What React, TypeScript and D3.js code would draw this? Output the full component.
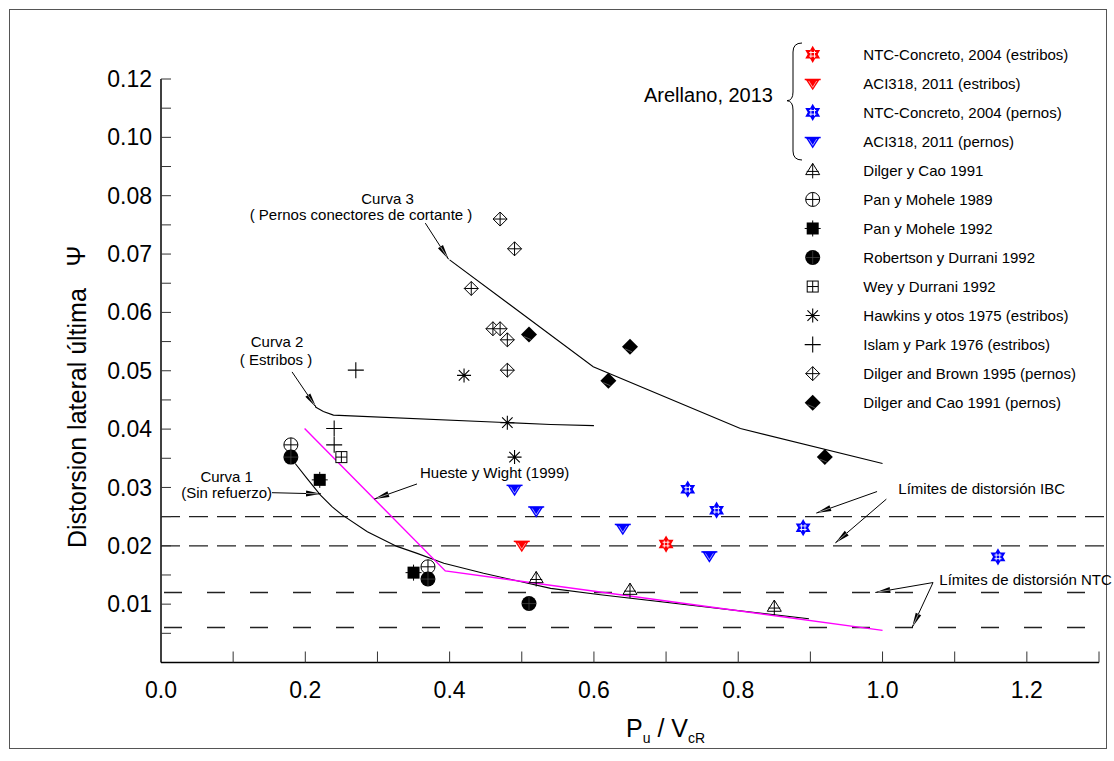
import React from "react";
import * as d3 from "d3";

type Pt = [number, number];

// --- data (x = Pu/VcR, y = axis position) ---
const ntcEstribos: Pt[] = [[0.70, 0.0203]];
const aciEstribos: Pt[] = [[0.50, 0.0201]];
const ntcPernos: Pt[] = [[0.73, 0.0297], [0.77, 0.0261], [0.89, 0.0231], [1.16, 0.0181]];
const aciPernos: Pt[] = [[0.49, 0.0297], [0.52, 0.026], [0.64, 0.023], [0.76, 0.0183]];
const dilgerCao1991: Pt[] = [[0.52, 0.0144], [0.65, 0.0124], [0.85, 0.0095]];
const panMohele1989: Pt[] = [[0.18, 0.0373], [0.37, 0.0164]];
const panMohele1992: Pt[] = [[0.22, 0.0313], [0.35, 0.0154]];
const robertsonDurrani: Pt[] = [[0.18, 0.0352], [0.37, 0.0143], [0.51, 0.0101]];
const weyDurrani: Pt[] = [[0.25, 0.0352]];
const hawkins: Pt[] = [[0.42, 0.0492], [0.48, 0.0411], [0.49, 0.0352]];
const islamPark: Pt[] = [[0.27, 0.0501], [0.24, 0.0401], [0.24, 0.0373]];
const dilgerBrown: Pt[] = [
  [0.47, 0.076], [0.49, 0.0709], [0.43, 0.0641], [0.46, 0.0572],
  [0.47, 0.0572], [0.48, 0.0553], [0.48, 0.0501],
];
const dilgerCaoPernos: Pt[] = [[0.51, 0.0562], [0.65, 0.0541], [0.62, 0.0483], [0.92, 0.0352]];

// curves
const curva1: Pt[] = [
  [0.186, 0.0341], [0.202, 0.0316], [0.221, 0.0287], [0.237, 0.0267], [0.251, 0.0253],
  [0.286, 0.0224], [0.327, 0.0199], [0.355, 0.0187], [0.392, 0.017], [0.447, 0.0153],
  [0.54, 0.0127], [0.609, 0.0116], [0.898, 0.0075],
];
const curva2: Pt[] = [[0.214, 0.0438], [0.225, 0.043], [0.239, 0.0424], [0.54, 0.0408], [0.6, 0.0406]];
const curva3: Pt[] = [[0.4, 0.069], [0.599, 0.0507], [0.803, 0.0401], [1.0, 0.0341]];
const huesteWight: Pt[] = [[0.199, 0.0401], [0.394, 0.0157], [1.0, 0.0055]];

const limitesIBC = [0.025, 0.02];
const limitesNTC = [0.012, 0.006];

const xLabelValues = [0, 0.2, 0.4, 0.6, 0.8, 1.0, 1.2];
const xLabels = ["0.0", "0.2", "0.4", "0.6", "0.8", "1.0", "1.2"];
const xMinor = [0.1, 0.2, 0.3, 0.4, 0.5, 0.6, 0.7, 0.8, 0.9, 1.0, 1.1, 1.2, 1.3];
const yLabelValues = [0.01, 0.02, 0.03, 0.04, 0.05, 0.06, 0.07, 0.08, 0.09, 0.1];
const yLabels = ["0.01", "0.02", "0.03", "0.04", "0.05", "0.06", "0.07", "0.08", "0.10", "0.12"];

const FONT = "'Liberation Sans', Arial, sans-serif";

type Kind =
  | "star" | "triDown" | "triUp" | "circlePlus" | "squareFill" | "circleFill"
  | "squarePlus" | "asterisk" | "plus" | "diamondPlus" | "diamondFill";

const series: { label: string; kind: Kind; color: string; data: Pt[] }[] = [
  { label: "NTC-Concreto, 2004 (estribos)", kind: "star", color: "#ff0000", data: ntcEstribos },
  { label: "ACI318, 2011 (estribos)", kind: "triDown", color: "#ff0000", data: aciEstribos },
  { label: "NTC-Concreto, 2004 (pernos)", kind: "star", color: "#0000ff", data: ntcPernos },
  { label: "ACI318, 2011 (pernos)", kind: "triDown", color: "#0000ff", data: aciPernos },
  { label: "Dilger y Cao 1991", kind: "triUp", color: "#000", data: dilgerCao1991 },
  { label: "Pan y Mohele 1989", kind: "circlePlus", color: "#000", data: panMohele1989 },
  { label: "Pan y Mohele 1992", kind: "squareFill", color: "#000", data: panMohele1992 },
  { label: "Robertson y Durrani 1992", kind: "circleFill", color: "#000", data: robertsonDurrani },
  { label: "Wey y Durrani 1992", kind: "squarePlus", color: "#000", data: weyDurrani },
  { label: "Hawkins y otos 1975 (estribos)", kind: "asterisk", color: "#000", data: hawkins },
  { label: "Islam y Park 1976 (estribos)", kind: "plus", color: "#000", data: islamPark },
  { label: "Dilger and Brown 1995 (pernos)", kind: "diamondPlus", color: "#000", data: dilgerBrown },
  { label: "Dilger and Cao 1991 (pernos)", kind: "diamondFill", color: "#000", data: dilgerCaoPernos },
];

function Marker({ kind, x, y, color }: { kind: Kind; x: number; y: number; color: string }) {
  const r = 7;
  const t = `translate(${x},${y})`;
  switch (kind) {
    case "star": {
      const h = r * 0.866;
      return (
        <g transform={t}>
          <path d={`M0,${-r}L${h},${r / 2}L${-h},${r / 2}Z`} fill={color} stroke={color} strokeWidth={1.6} />
          <path d={`M0,${r}L${h},${-r / 2}L${-h},${-r / 2}Z`} fill={color} stroke={color} strokeWidth={1.6} />
          <path d="M-1.8,-3.5V3.5M1.8,-3.5V3.5M-3.5,-1.8H3.5M-3.5,1.8H3.5" stroke="#fff" strokeWidth={0.9} />
        </g>
      );
    }
    case "triDown":
      return (
        <g transform={t}>
          <path d={`M${-r},${-r * 0.55}L${r},${-r * 0.55}L0,${r}Z`} fill={color} />
          <path d={`M${-r - 1},${-r * 0.55}H${r + 1}`} stroke={color} strokeWidth={1.5} />
          <path d={`M${-r + 3},${-r * 0.55 + 1.5}L0,${r - 3}L${r - 3},${-r * 0.55 + 1.5}`} fill="none" stroke="#fff" strokeWidth={0.6} />
        </g>
      );
    case "triUp":
      return (
        <g transform={t} fill="none" stroke={color} strokeWidth={1}>
          <path d={`M0,${-r}L${r},${r * 0.6}L${-r},${r * 0.6}Z`} />
          <path d={`M0,${-r}V${r + 1}M${-r + 1},${1}H${r - 1}`} />
        </g>
      );
    case "circlePlus":
      return (
        <g transform={t} fill="none" stroke={color} strokeWidth={1}>
          <circle r={r} fill="#fff" />
          <path d={`M0,${-r}V${r}M${-r},0H${r}`} />
        </g>
      );
    case "squareFill":
      return (
        <g transform={t}>
          <rect x={-6} y={-6} width={12} height={12} fill={color} />
          <path d="M0,-8V8M-8,0H8" stroke={color} strokeWidth={1} />
        </g>
      );
    case "circleFill":
      return (
        <g transform={t}>
          <circle r={r + 0.5} fill={color} />
          <path d={`M0,${-r}V${r}M${-r},0H${r}`} stroke="#555" strokeWidth={0.6} />
        </g>
      );
    case "squarePlus":
      return (
        <g transform={t} fill="none" stroke={color} strokeWidth={1}>
          <rect x={-5.5} y={-5.5} width={11} height={11} fill="#fff" />
          <path d="M0,-5.5V5.5M-5.5,0H5.5" />
        </g>
      );
    case "asterisk": {
      const d = r * 0.75;
      return (
        <g transform={t} stroke={color} strokeWidth={1.1}>
          <path d={`M0,${-r}V${r}M${-r},0H${r}M${-d},${-d}L${d},${d}M${-d},${d}L${d},${-d}`} />
        </g>
      );
    }
    case "plus":
      return (
        <g transform={t} stroke={color} strokeWidth={1.1}>
          <path d={`M0,${-r - 1}V${r + 1}M${-r - 1},0H${r + 1}`} />
        </g>
      );
    case "diamondPlus":
      return (
        <g transform={t} fill="none" stroke={color} strokeWidth={1}>
          <path d={`M0,${-r}L${r},0L0,${r}L${-r},0Z`} fill="#fff" />
          <path d={`M0,${-r}V${r}M${-r},0H${r}`} />
        </g>
      );
    case "diamondFill":
      return (
        <g transform={t}>
          <path d={`M0,${-r - 1}L${r + 1},0L0,${r + 1}L${-r - 1},0Z`} fill={color} />
          <path d={`M${-r + 2},${2}L${2},${r - 2}`} stroke="#777" strokeWidth={0.7} />
        </g>
      );
  }
  return null;
}

function Arrow({ x1, y1, x2, y2 }: { x1: number; y1: number; x2: number; y2: number }) {
  const a = Math.atan2(y2 - y1, x2 - x1);
  const L = 15, w = 3;
  const bx = x2 - L * Math.cos(a), by = y2 - L * Math.sin(a);
  const px = -Math.sin(a) * w, py = Math.cos(a) * w;
  return (
    <g>
      <line x1={x1} y1={y1} x2={x2} y2={y2} stroke="#000" strokeWidth={1} />
      <path d={`M${x2},${y2}L${bx + px},${by + py}L${bx - px},${by - py}Z`} fill="#000" />
      <line x1={bx} y1={by} x2={x2 - 3 * Math.cos(a)} y2={y2 - 3 * Math.sin(a)} stroke="#fff" strokeWidth={0.6} />
    </g>
  );
}

export default function App() {
  const W = 1114, H = 761;
  const x = d3.scaleLinear().domain([0, 1.3]).range([161, 1099]);
  const y = d3.scaleLinear().domain([0, 0.1]).range([662.5, 79]);
  const line = d3.line<Pt>().x((d) => x(d[0])).y((d) => y(d[1]));
  const yMinor = d3.range(1, 21).map((i) => i * 0.005);

  // annotation arrows in data coordinates [from, to]
  const arrows: [Pt, Pt][] = [
    [[0.3663, 0.0753], [0.3986, 0.0691]],
    [[0.1816, 0.0498], [0.2152, 0.0437]],
    [[0.1538, 0.0291], [0.2218, 0.0289]],
    [[0.3548, 0.0306], [0.2956, 0.028]],
    [[0.9924, 0.0293], [0.9082, 0.0256]],
    [[1.0053, 0.028], [0.9346, 0.0205]],
    [[1.07, 0.0137], [0.99, 0.012]],
    [[1.07, 0.0137], [1.041, 0.006]],
  ];

  const legendX = 812.7, legendTextX = 863.3, legendY0 = 54.3, legendDy = 29.03;

  return (
    <svg width={W} height={H} style={{ position: "absolute", left: 0, top: 0, background: "#fff" }}
      fontFamily={FONT}>
      <rect x={9.5} y={9.5} width={1097} height={739} fill="none" stroke="#555" strokeWidth={1} />

      {/* limit lines */}
      {limitesIBC.map((v) => (
        <line key={"ibc" + v} x1={x(0)} x2={1106} y1={y(v)} y2={y(v)} stroke="#222" strokeWidth={1.3}
          strokeDasharray="19 9" />
      ))}
      {limitesNTC.map((v) => (
        <line key={"ntc" + v} x1={x(0) + 3} x2={1106} y1={y(v)} y2={y(v)} stroke="#222" strokeWidth={1.3}
          strokeDasharray="18 25" />
      ))}

      {/* curves */}
      <path d={line(curva1) ?? ""} fill="none" stroke="#000" strokeWidth={1.1} />
      <path d={line(curva2) ?? ""} fill="none" stroke="#000" strokeWidth={1.1} />
      <path d={line(curva3) ?? ""} fill="none" stroke="#000" strokeWidth={1.1} />
      <path d={line(huesteWight) ?? ""} fill="none" stroke="#ff00ff" strokeWidth={1.4} />

      {/* axes */}
      <line x1={x(0)} x2={x(0)} y1={y(0.1)} y2={y(0)} stroke="#000" strokeWidth={1.5} />
      <line x1={x(0)} x2={x(1.3)} y1={y(0)} y2={y(0)} stroke="#000" strokeWidth={1.5} />
      {yMinor.map((v) => (
        <line key={"yt" + v} x1={x(0)} x2={x(0) + 10} y1={y(v)} y2={y(v)} stroke="#333" strokeWidth={1} />
      ))}
      {xMinor.map((v) => (
        <line key={"xt" + v} x1={x(v)} x2={x(v)} y1={y(0)} y2={y(0) - 11} stroke="#333" strokeWidth={1} />
      ))}
      {yLabelValues.map((v, i) => (
        <text key={"yl" + i} x={x(0) - 9} y={y(v)} dy="0.35em" textAnchor="end" fontSize={23}>
          {yLabels[i]}
        </text>
      ))}
      {xLabelValues.map((v, i) => (
        <text key={"xl" + i} x={x(v)} y={698} textAnchor="middle" fontSize={23}>
          {xLabels[i]}
        </text>
      ))}

      {/* axis titles */}
      <text transform="translate(86,548) rotate(-90)" fontSize={25}>Distorsion lateral última</text>
      <text transform="translate(85,256) rotate(-90)" fontSize={25} textAnchor="middle">Ψ</text>
      <text x={626} y={737} fontSize={25}>
        P<tspan fontSize={14} dy={6}>u</tspan>
        <tspan dy={-6}> / V</tspan>
        <tspan fontSize={14} dy={6}>cR</tspan>
      </text>

      {/* data markers */}
      {series.map((s) =>
        s.data.map((d, i) => (
          <Marker key={s.label + i} kind={s.kind} x={x(d[0])} y={y(d[1])} color={s.color} />
        ))
      )}

      {/* annotations */}
      {arrows.map(([a, b], i) => (
        <Arrow key={"ar" + i} x1={x(a[0])} y1={y(a[1])} x2={x(b[0])} y2={y(b[1])} />
      ))}
      <g fontSize={15} fill="#000">
        <text x={387.5} y={198.5} dy="0.35em" textAnchor="middle">Curva 3</text>
        <text x={361} y={214.5} dy="0.35em" textAnchor="middle">( Pernos conectores de cortante )</text>
        <text x={277} y={341.7} dy="0.35em" textAnchor="middle">Curva 2</text>
        <text x={276} y={359.3} dy="0.35em" textAnchor="middle">( Estribos )</text>
        <text x={226.7} y={476.5} dy="0.35em" textAnchor="middle">Curva 1</text>
        <text x={226.7} y={492.5} dy="0.35em" textAnchor="middle">(Sin refuerzo)</text>
        <text x={420} y={472.7} dy="0.35em">Hueste y Wight (1999)</text>
        <text x={898.3} y={489} dy="0.35em">Límites de distorsión IBC</text>
        <text x={939.3} y={579.3} dy="0.35em">Límites de distorsión NTC</text>
      </g>

      {/* legend */}
      <text x={644} y={95} dy="0.35em" fontSize={20}>Arellano, 2013</text>
      <path d="M802,43 Q793,43 793,52 L793,92 Q793,100.5 787,100.7 Q793,101 793,110 L793,151 Q793,160 802,160"
        fill="none" stroke="#000" strokeWidth={1} />
      {series.map((s, i) => (
        <g key={"lg" + i}>
          <Marker kind={s.kind} x={legendX} y={legendY0 + i * legendDy} color={s.color} />
          <text x={legendTextX} y={legendY0 + i * legendDy} dy="0.35em" fontSize={15}>{s.label}</text>
        </g>
      ))}
    </svg>
  );
}
